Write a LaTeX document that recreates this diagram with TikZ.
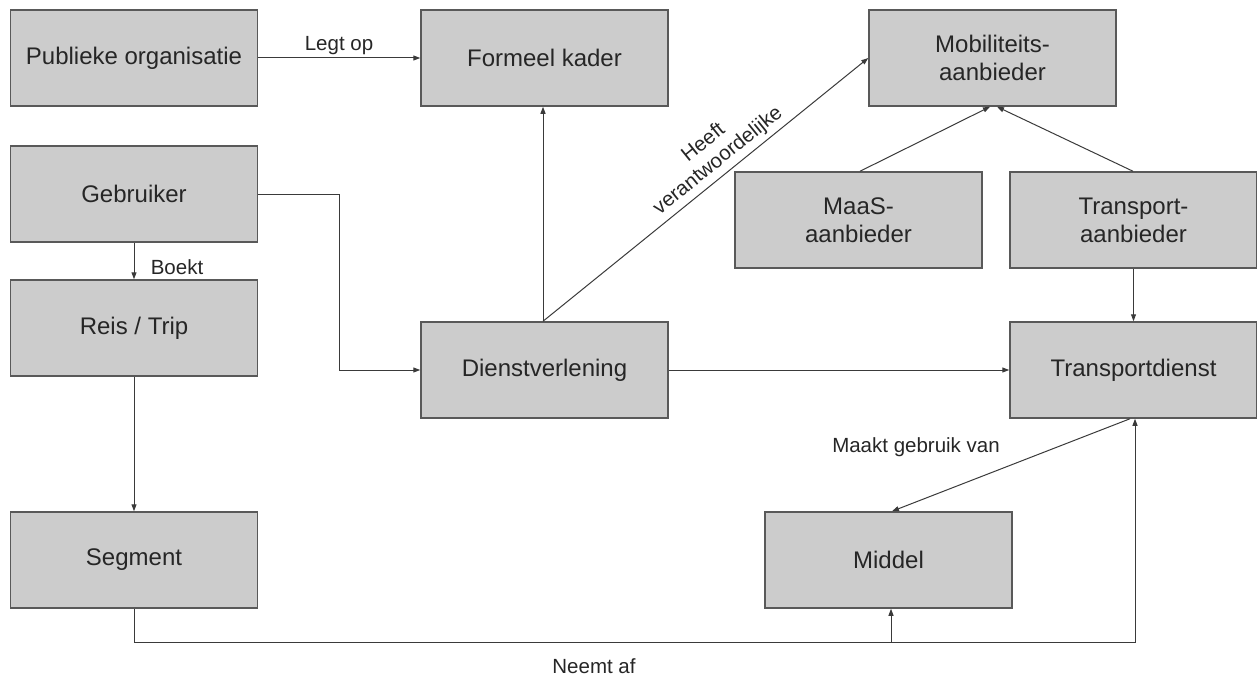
\documentclass[tikz,border=0pt]{standalone}
\usepackage{fontspec}
\setmainfont{Liberation Sans}
\usetikzlibrary{arrows.meta,calc}
\definecolor{boxfill}{HTML}{CCCCCC}
\definecolor{boxline}{HTML}{595959}
\definecolor{txt}{HTML}{262626}
\definecolor{conn}{HTML}{3A3A3A}
\begin{document}
\begin{tikzpicture}[x=1pt,y=-1pt,
  box/.style={draw=boxline,fill=boxfill,line width=1.5pt,minimum width=247pt,minimum height=96pt,inner sep=0pt,align=center,text=txt,font=\fontsize{24}{28}\selectfont},
  lbl/.style={text=txt,font=\fontsize{20.5}{23}\selectfont,inner sep=0pt,align=center},
  arr/.style={draw=conn,line width=1pt,-{Triangle[length=7pt,width=5pt]}},
  ln/.style={draw=conn,line width=1pt}]
\useasboundingbox (0,0) rectangle (1257,677);
\node[box] (pub) at (134,58) {Publieke organisatie};
\node[box] (form) at (544.5,58) {Formeel kader};
\node[box] (mob) at (992.5,58) {Mobiliteits-\\aanbieder};
\node[box] (geb) at (134,194) {Gebruiker};
\node[box] (maas) at (858.5,220) {MaaS-\\aanbieder};
\node[box] (tra) at (1133.5,220) {Transport-\\aanbieder};
\node[box] (reis) at (134,328) {Reis / Trip};
\node[box] (dienst) at (544.5,370) {Dienstverlening};
\node[box] (tdienst) at (1133.5,370) {Transportdienst};
\node[box] (seg) at (134,560) {Segment};
\node[box] (middel) at (888.5,560) {Middel};
% connectors
\draw[arr] (pub.east) -- (form.west);
\node[lbl] (lop) at (339,46) {Legt op};
\draw[arr] (geb.east) -- ++(81,0) |- (dienst.west);
\draw[arr] (geb.south) -- (reis.north);
\node[lbl] (boekt) at (177,267) {Boekt};
\draw[arr] (reis.south) -- (seg.north);
\draw[arr] ([xshift=-1.5pt]dienst.north) -- ([xshift=-1.5pt]form.south);
\draw[arr] ([xshift=-1.5pt]dienst.north) -- (mob.west);
\node[lbl,rotate=39] (heeft) at (711,152) {Heeft\\verantwoordelijke};
\draw[arr] ([xshift=1.5pt]maas.north) -- ([xshift=-2.5pt]mob.south);
\draw[arr] ([xshift=-0.5pt]tra.north) -- ([xshift=4.5pt]mob.south);
\draw[arr] (tra.south) -- (tdienst.north);
\draw[arr] (dienst.east) -- (tdienst.west);
\draw[arr] ([xshift=-3.5pt]tdienst.south) -- ([xshift=3.5pt]middel.north);
\node[lbl] (maakt) at (916,447) {Maakt gebruik van};
\coordinate (nb) at ($(seg.south)+(0,34)$);
\draw[ln] (seg.south) -- (nb);
\draw[arr] (nb) -| ([xshift=2.5pt]middel.south);
\draw[arr] (nb) -| ([xshift=1.5pt]tdienst.south);
\node[lbl] (neemt) at (594,666) {Neemt af};
\end{tikzpicture}
\end{document}
